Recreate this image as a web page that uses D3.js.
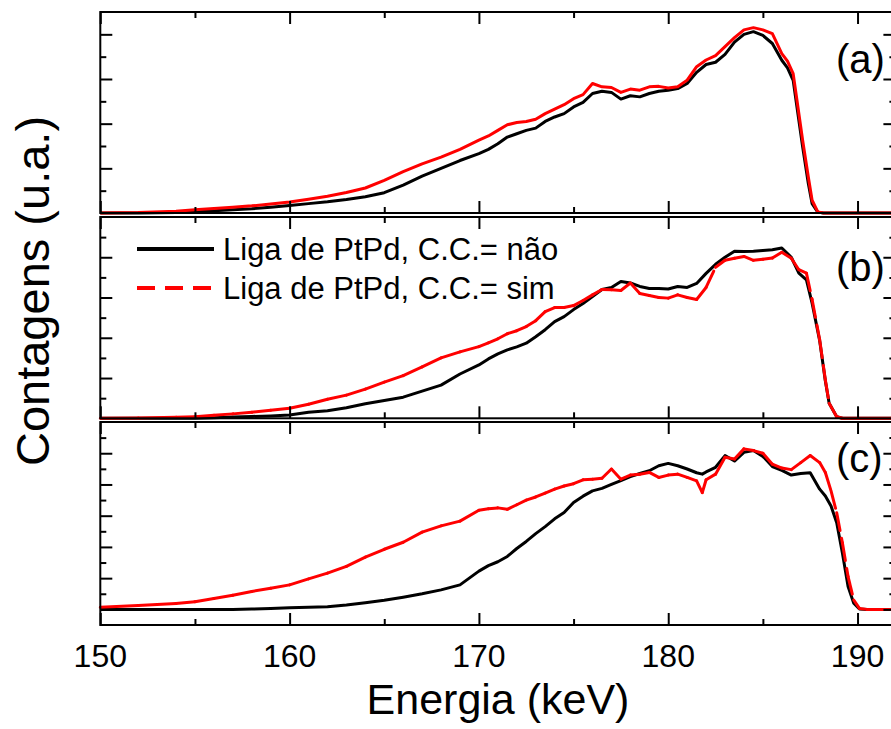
<!DOCTYPE html>
<html>
<head>
<meta charset="utf-8">
<script src="https://cdn.jsdelivr.net/npm/d3@7"></script>
<style>
  html, body { margin: 0; padding: 0; background: #fff; }
  svg { display: block; font-family: "Liberation Sans", Arial, sans-serif; }
</style>
</head>
<body>
<svg id="chart" width="891" height="729"></svg>
<script>
// ---------- DATA ----------
const energyA = [150,152,154,155,156,157,158,159,160,161,162,163,164,165,166,167,168,169,170,
  170.5,171,171.5,172,172.5,173,173.5,174,174.5,175,175.5,176,176.5,177,177.5,178,178.5,179,179.5,180,
  180.5,181,181.5,182,182.5,183,183.5,184,184.5,185,185.5,186,
  186.3,186.6,186.8,187.1,187.4,187.6,187.9,188.2,190,192];
const naoA = [0,0,0.02,
  0.06,0.1,0.14,0.19,0.26,0.34,0.42,0.5,0.6,0.73,0.91,1.25,1.65,2.0,2.35,2.66,
  2.85,3.1,3.4,3.55,3.7,3.8,4.1,4.3,4.45,4.75,4.95,5.35,5.45,5.4,5.1,5.25,5.2,5.35,5.45,5.5,
  5.57,5.8,6.3,6.65,6.75,7.1,7.65,8.0,8.12,7.95,7.59,6.84,
  6.5,5.94,4.75,2.96,1.32,0.42,0.04,0,0,0];
const simA = [0,0.02,0.08,
  0.15,0.2,0.26,0.32,0.4,0.49,0.62,0.75,0.92,1.12,1.46,1.85,2.2,2.5,2.85,3.26,
  3.45,3.7,3.95,4.05,4.1,4.2,4.45,4.65,4.85,5.12,5.3,5.8,5.65,5.62,5.4,5.55,5.5,5.65,5.67,5.6,
  5.65,5.95,6.55,6.85,7.05,7.45,7.85,8.2,8.3,8.2,8.03,7.14,
  6.8,6.24,5.05,3.26,1.61,0.57,0.05,0,0,0];

const energyB = [150,152,154,155,156,157,158,159,160,161,162,163,164,165,166,167,168,169,170,
  170.5,171,171.5,172,172.5,173,173.5,174,174.5,175,175.5,176,176.5,177,177.5,178,178.5,179,179.5,180,
  180.5,181,181.5,182,182.5,183,183.5,184,184.5,185,185.5,186,
  186.5,186.9,187.3,187.6,188.0,188.3,188.5,188.9,189.2,190,192];
const naoB = [0,0,0,
  0,0.03,0.06,0.09,0.12,0.16,0.3,0.38,0.52,0.72,0.88,1.05,1.35,1.65,2.2,2.65,
  2.95,3.2,3.4,3.55,3.73,4.05,4.4,4.8,5.05,5.4,5.7,6.05,6.4,6.5,6.8,6.72,6.55,6.45,6.45,6.42,
  6.55,6.5,6.7,7.2,7.65,8.0,8.3,8.29,8.3,8.34,8.37,8.46,
  8.0,7.21,6.88,5.72,3.85,1.85,0.75,0.08,0,0,0];
const simB = [0,0.02,0.05,
  0.08,0.15,0.22,0.3,0.4,0.5,0.7,0.95,1.15,1.45,1.8,2.12,2.55,3.0,3.3,3.56,
  3.75,3.95,4.2,4.35,4.56,4.85,5.3,5.5,5.5,5.6,5.85,6.13,6.4,6.38,6.35,6.72,6.2,6.1,6.0,5.97,
  6.13,6.0,5.9,6.5,7.5,7.85,7.95,8.04,7.85,7.9,7.96,8.25,
  7.95,7.38,7.21,5.9,3.9,1.9,0.75,0.08,0,0,0];

const energyC = [150,152,154,155,156,157,158,159,160,161,162,163,164,165,166,167,168,169,170,
  170.5,171,171.5,172,172.5,173,173.5,174,174.5,175,175.5,176,176.5,177,177.5,178,178.5,179,179.5,180,
  180.5,181,181.5,181.8,182,182.5,183,183.5,184,184.5,185,185.5,186,
  186.5,187,187.5,188,188.3,188.6,188.9,189.2,189.5,189.8,190.1,190.5,192];
const naoC = [0,0,0,
  0,0,0,0.02,0.05,0.1,0.13,0.17,0.28,0.42,0.58,0.78,1.0,1.25,1.57,2.45,
  2.8,3.05,3.39,3.9,4.35,4.85,5.3,5.8,6.2,6.85,7.25,7.59,7.75,8.0,8.25,8.5,8.7,8.88,9.2,9.35,
  9.2,8.99,8.75,8.66,8.8,9.1,9.85,9.5,10.06,10.17,9.8,9.15,8.9,
  8.6,8.7,8.75,7.7,7.26,6.62,5.55,3.61,1.46,0.39,0.02,0,0];
const simC = [0.13,0.25,0.38,
  0.49,0.7,0.9,1.15,1.35,1.57,1.95,2.32,2.75,3.35,3.85,4.3,4.95,5.35,5.65,6.35,
  6.45,6.5,6.41,6.7,7.0,7.2,7.45,7.7,7.9,8.05,8.3,8.34,8.4,8.99,8.34,8.6,8.66,8.77,8.45,8.6,
  8.66,8.45,8.23,7.48,8.3,8.66,9.74,9.63,10.28,10.17,10.0,9.3,9.05,
  8.95,9.4,9.85,9.4,8.77,7.59,6.19,4.26,2.1,0.6,0.06,0,0];

const xMajorTicks = [150,160,170,180,190];
const xMinorTicks = [155,165,175,185];
const xTickLabels = ["150","160","170","180","190"];
const seriesNames = ["Liga de PtPd, C.C.= não", "Liga de PtPd, C.C.= sim"];
const panelLabels = ["(a)","(b)","(c)"];
const xTitle = "Energia (keV)";
const yTitle = "Contagens (u.a.)";

// ---------- LAYOUT ----------
const svg = d3.select("#chart");
const x = d3.scaleLinear().domain([150,192]).range([100.3, 895.4]);

const panels = [
  {E: energyA, nao: naoA, sim: simA, yDomain: [0,9],  top: 12,  bottom: 213, label: panelLabels[0], labelY: 73,  dashed: false,
   yMajor: [2,4,6,8], yMinor: [1,3,5,7]},
  {E: energyB, nao: naoB, sim: simB, yDomain: [0,10], top: 217, bottom: 418.3, label: panelLabels[1], labelY: 281, dashed: true,
   yMajor: [2,4,6,8], yMinor: [1,3,5,7,9]},
  {E: energyC, nao: naoC, sim: simC, yDomain: [-1,12], top: 422, bottom: 625, label: panelLabels[2], labelY: 472, dashed: true,
   yMajor: [0,2,4,6,8,10], yMinor: [1,3,5,7,9,11]}
];

const BLACK = "#000000", RED = "#ff0000";
const majorLen = 12, minorLen = 6;

panels.forEach(p => {
  const y = d3.scaleLinear().domain(p.yDomain).range([p.bottom, p.top]);
  const g = svg.append("g");

  const pts = d => d3.zip(p.E, d);
  const line = d3.line().x(d => x(d[0])).y(d => y(d[1]));

  // black series
  g.append("path").datum(pts(p.nao))
    .attr("d", line).attr("fill","none").attr("stroke",BLACK)
    .attr("stroke-width",3).attr("stroke-linejoin","round");

  // red series
  if (!p.dashed) {
    g.append("path").datum(pts(p.sim))
      .attr("d", line).attr("fill","none").attr("stroke",RED)
      .attr("stroke-width",3).attr("stroke-linejoin","round");
  } else {
    g.selectAll("line.seg").data(d3.pairs(pts(p.sim))).join("line")
      .attr("class","seg")
      .attr("x1", d => x(d[0][0])).attr("y1", d => y(d[0][1]))
      .attr("x2", d => x(d[1][0])).attr("y2", d => y(d[1][1]))
      .attr("stroke", RED).attr("stroke-width",3).attr("stroke-linecap","round")
      .attr("stroke-dasharray", d => {
        const dx = Math.abs(x(d[1][0]) - x(d[0][0]));
        const dy = Math.abs(y(d[1][1]) - y(d[0][1]));
        return dy > 2 * dx ? "18,8" : null;
      });
  }

  // frame
  g.append("rect")
    .attr("x", x.range()[0]).attr("y", p.top)
    .attr("width", x.range()[1] - x.range()[0]).attr("height", p.bottom - p.top)
    .attr("fill","none").attr("stroke",BLACK).attr("stroke-width",2);

  const styleAxis = sel => { sel.select(".domain").remove(); sel.selectAll("line").attr("stroke",BLACK).attr("stroke-width",2); sel.selectAll("text").remove(); };

  // y ticks left (inward) and right (inward)
  g.append("g").attr("transform",`translate(${x.range()[0]},0)`)
    .call(d3.axisLeft(y).tickValues(p.yMajor).tickSize(-majorLen)).call(styleAxis);
  g.append("g").attr("transform",`translate(${x.range()[0]},0)`)
    .call(d3.axisLeft(y).tickValues(p.yMinor).tickSize(-minorLen)).call(styleAxis);
  g.append("g").attr("transform",`translate(${x.range()[1]},0)`)
    .call(d3.axisRight(y).tickValues(p.yMajor).tickSize(-majorLen)).call(styleAxis);
  g.append("g").attr("transform",`translate(${x.range()[1]},0)`)
    .call(d3.axisRight(y).tickValues(p.yMinor).tickSize(-minorLen)).call(styleAxis);

  // x ticks top and bottom (inward)
  g.append("g").attr("transform",`translate(0,${p.bottom})`)
    .call(d3.axisBottom(x).tickValues(xMajorTicks).tickSize(-majorLen)).call(styleAxis);
  g.append("g").attr("transform",`translate(0,${p.bottom})`)
    .call(d3.axisBottom(x).tickValues(xMinorTicks).tickSize(-minorLen)).call(styleAxis);
  g.append("g").attr("transform",`translate(0,${p.top})`)
    .call(d3.axisTop(x).tickValues(xMajorTicks).tickSize(-majorLen)).call(styleAxis);
  g.append("g").attr("transform",`translate(0,${p.top})`)
    .call(d3.axisTop(x).tickValues(xMinorTicks).tickSize(-minorLen)).call(styleAxis);

  // panel label
  g.append("text").attr("x", 836).attr("y", p.labelY)
    .attr("font-size", 40).attr("fill", BLACK).text(p.label);
});

// x tick labels
svg.append("g").selectAll("text").data(d3.zip(xMajorTicks, xTickLabels)).join("text")
  .attr("x", d => x(d[0])).attr("y", 667)
  .attr("text-anchor","middle").attr("font-size",32).attr("fill",BLACK)
  .text(d => d[1]);

// axis titles
svg.append("text").attr("x", 498).attr("y", 714)
  .attr("text-anchor","middle").attr("font-size",43).attr("fill",BLACK).text(xTitle);
svg.append("text").attr("transform","translate(49,291) rotate(-90)")
  .attr("text-anchor","middle").attr("font-size",47).attr("fill",BLACK).text(yTitle);

// legend (in panel b)
const legend = svg.append("g");
legend.append("line").attr("x1",137).attr("x2",214).attr("y1",249).attr("y2",249)
  .attr("stroke",BLACK).attr("stroke-width",4);
legend.append("line").attr("x1",137).attr("x2",214).attr("y1",288).attr("y2",288)
  .attr("stroke",RED).attr("stroke-width",4).attr("stroke-dasharray","18,10");
legend.append("text").attr("x",223).attr("y",260).attr("font-size",31).attr("fill",BLACK).text(seriesNames[0]);
legend.append("text").attr("x",223).attr("y",299).attr("font-size",31).attr("fill",BLACK).text(seriesNames[1]);
</script>
</body>
</html>
